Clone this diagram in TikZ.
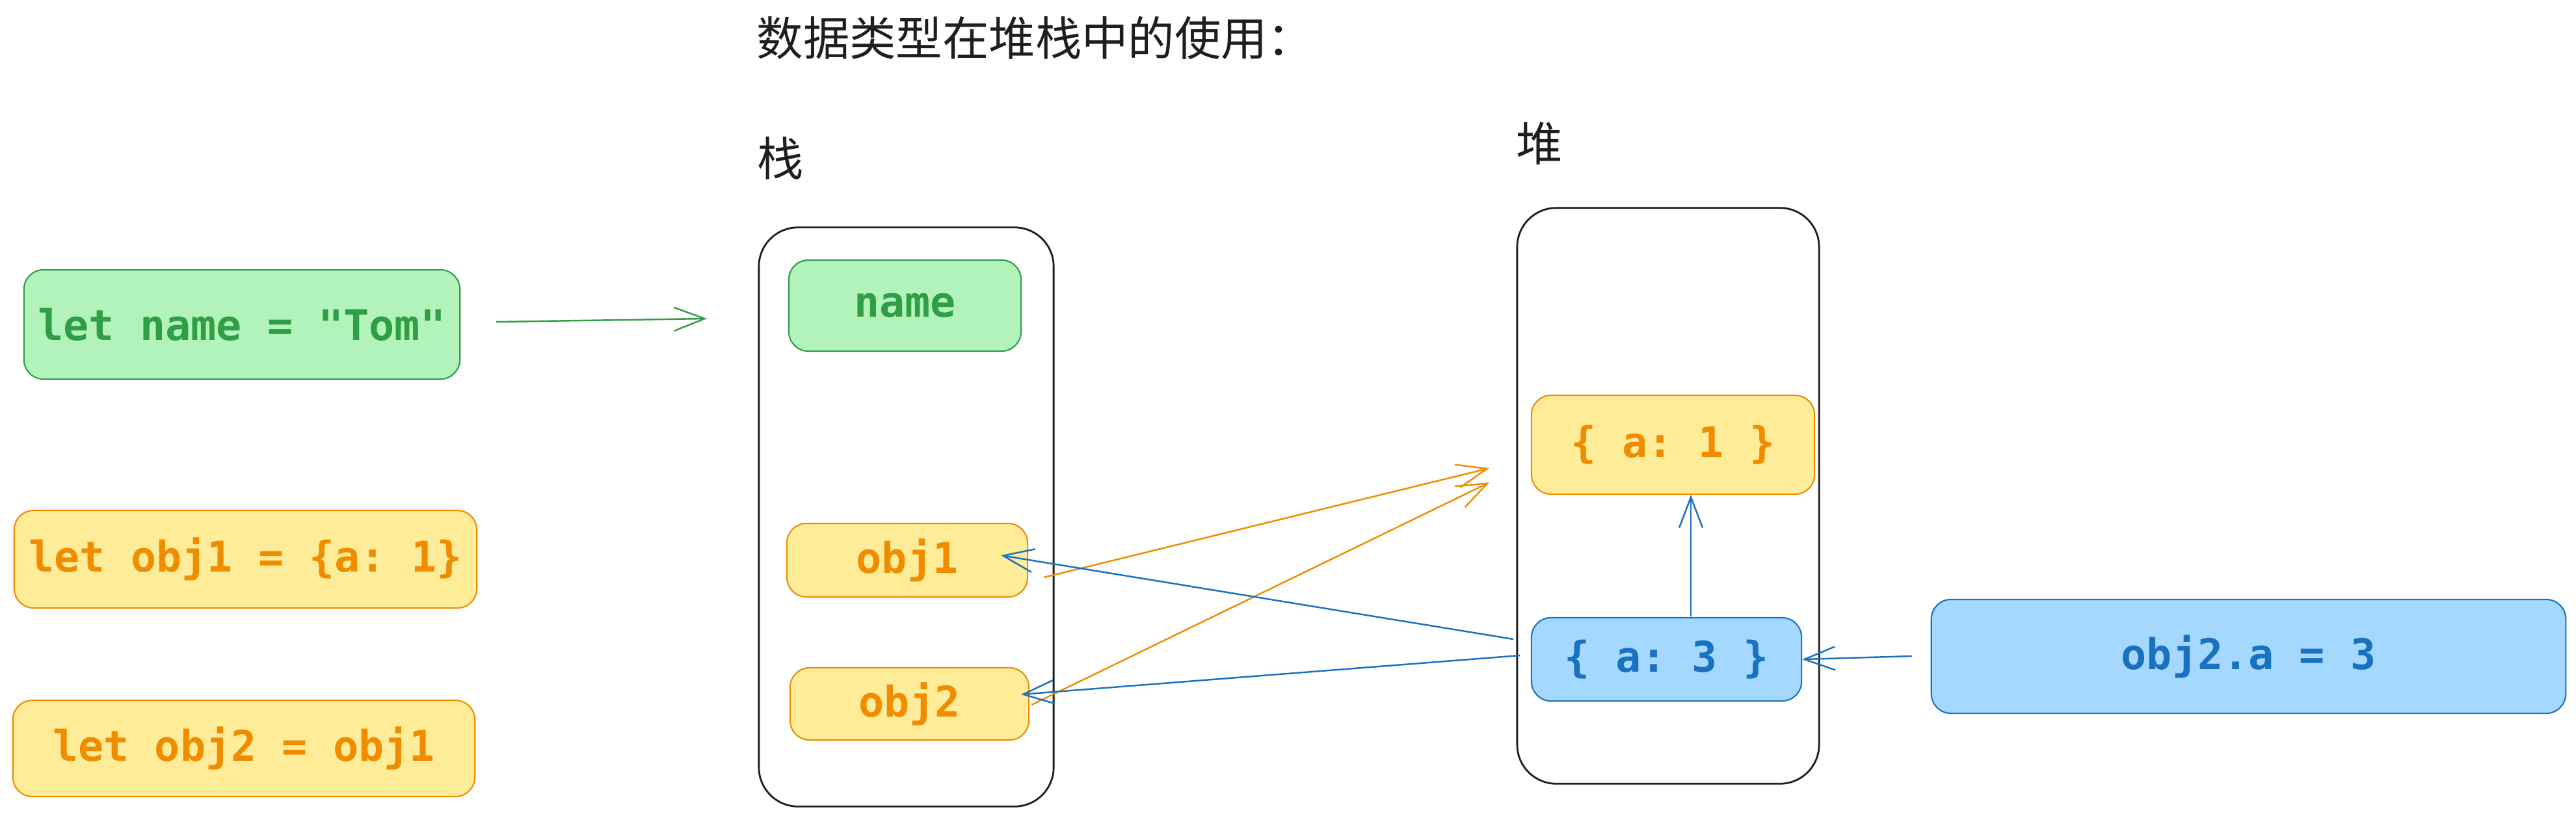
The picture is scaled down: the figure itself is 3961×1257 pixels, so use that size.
\documentclass[tikz,border=0pt]{standalone}
\usepackage{fontspec}
\setmonofont{DejaVu Sans Mono}
\newfontfamily\cjk{Noto Sans CJK SC}
\usetikzlibrary{arrows.meta}
\definecolor{ink}{HTML}{1E1E1E}
\definecolor{gfill}{HTML}{B2F2BB}
\definecolor{gdraw}{HTML}{2F9E44}
\definecolor{ofill}{HTML}{FFEC99}
\definecolor{odraw}{HTML}{F08C00}
\definecolor{bfill}{HTML}{A5D8FF}
\definecolor{bdraw}{HTML}{1971C2}
\tikzset{
  codebox/.style={draw, rounded corners=0.3cm, line width=0.6pt, inner sep=0pt,
    font=\ttfamily\bfseries\fontsize{18.5}{20}\selectfont},
  gbox/.style={codebox, draw=gdraw, fill=gfill, text=gdraw},
  obox/.style={codebox, draw=odraw, fill=ofill, text=odraw},
  bbox/.style={codebox, draw=bdraw, fill=bfill, text=bdraw},
  membox/.style={draw=ink, line width=0.8pt, rounded corners=0.6cm, inner sep=0pt},
  label/.style={text=ink, inner sep=0pt, font=\cjk\fontsize{20.3}{22}\selectfont},
  arr/.style={-{Straight Barb[length=4.7mm,width=3.6mm]}, line width=0.7pt}
}
\begin{document}
\begin{tikzpicture}[x=0.01cm,y=-0.01cm]
\useasboundingbox[fill=white] (0,0) rectangle (3961,1257);

% titles
\node[label, anchor=west] (title) at (1163,58) {数据类型在堆栈中的使用：};
\node[label] (stacklbl) at (1200,243) {栈};
\node[label] (heaplbl) at (2367,221) {堆};

% memory regions
\node[membox, minimum width=4.53cm, minimum height=8.90cm] (stack) at (1393.5,795) {};
\node[membox, minimum width=4.64cm, minimum height=8.85cm] (heap) at (2565,762.5) {};

% code statements
\node[gbox, minimum width=6.70cm, minimum height=1.68cm] (code1) at (372,499) {let name = "Tom"};
\node[obox, minimum width=7.11cm, minimum height=1.50cm] (code2) at (377.5,860) {let obj1 = \{a: 1\}};
\node[obox, minimum width=7.10cm, minimum height=1.48cm] (code3) at (375,1151) {let obj2 = obj1};
\node[bbox, minimum width=9.75cm, minimum height=1.75cm] (assign) at (3457.5,1009.5) {obj2.a = 3};

% stack items
\node[gbox, minimum width=3.57cm, minimum height=1.40cm] (name) at (1391.5,470) {name};
\node[obox, minimum width=3.70cm, minimum height=1.13cm] (obj1) at (1395,861.5) {obj1};
\node[obox, minimum width=3.67cm, minimum height=1.11cm] (obj2) at (1398.5,1082.5) {obj2};

% heap items
\node[obox, minimum width=4.35cm, minimum height=1.52cm] (a1) at (2572.5,684) {\{ a: 1 \}};
\node[bbox, minimum width=4.15cm, minimum height=1.28cm] (a3) at (2562.5,1014) {\{ a: 3 \}};

% connector end points
\coordinate (g0) at (763,495);
\coordinate (g1) at (1087,490);
\coordinate (o1s) at (1605,888);
\coordinate (o1e) at (2290,720);
\coordinate (o2s) at (1586,1084);
\coordinate (o2e) at (2290,742);
\coordinate (b1s) at (2327,983);
\coordinate (b1e) at (1539,854);
\coordinate (b2s) at (2337,1008);
\coordinate (b2e) at (1570,1068);
\coordinate (u0) at (2600,948);
\coordinate (h0) at (2940,1009);

% connectors
\draw[arr, gdraw] (g0) -- (g1);
\draw[arr, odraw] (o1s) -- (o1e);
\draw[arr, odraw] (o2s) -- (o2e);
\draw[arr, bdraw] (b1s) -- (b1e);
\draw[arr, bdraw] (b2s) -- (b2e);
\draw[arr, bdraw] (u0) -- (u0 |- a1.south);
\draw[arr, bdraw] (h0) -- (a3.east);
\end{tikzpicture}
\end{document}
